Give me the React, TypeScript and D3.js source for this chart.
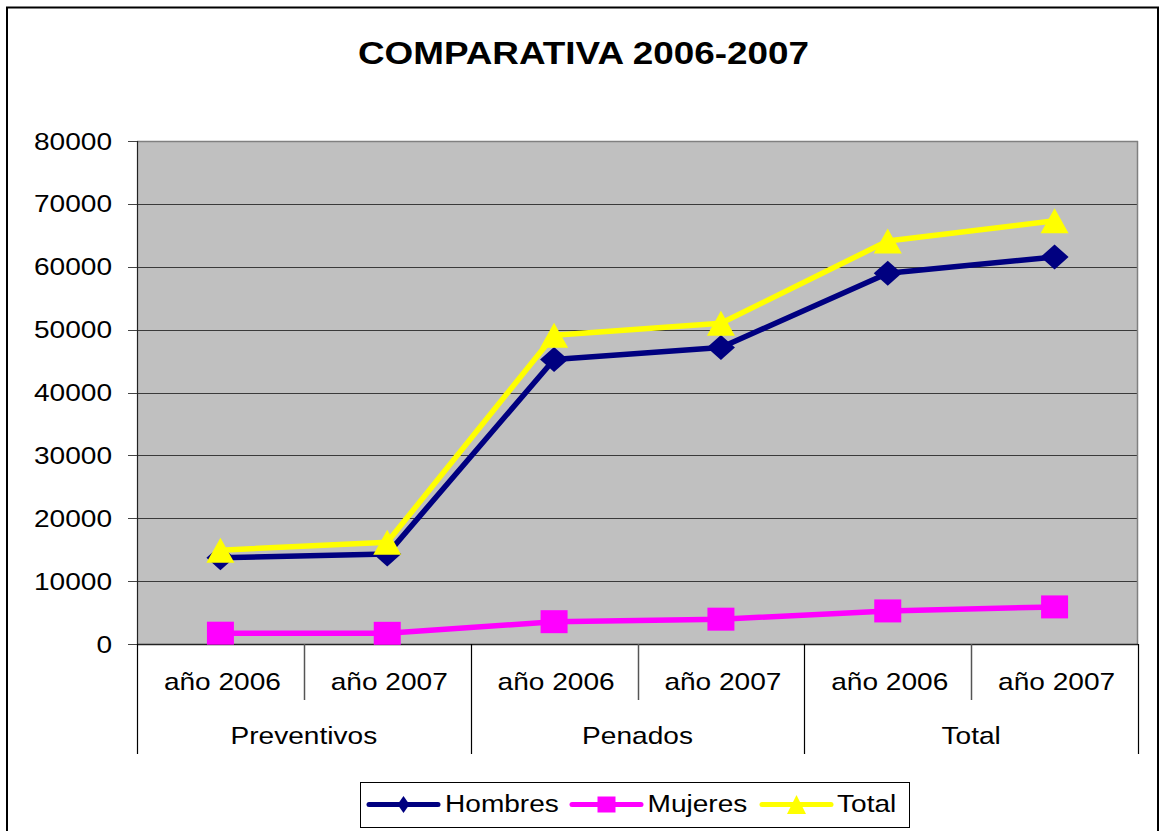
import React from "react";
import * as d3 from "d3";

const subCategories = ["año 2006", "año 2007", "año 2006", "año 2007", "año 2006", "año 2007"];
const groups = ["Preventivos", "Penados", "Total"];
const hombres = [13700, 14300, 45260, 47170, 58960, 61560];
const mujeres = [1720, 1700, 3550, 3950, 5260, 5900];
const total = [14930, 16170, 49110, 51000, 64110, 67300];
const yTicks = [0, 10000, 20000, 30000, 40000, 50000, 60000, 70000, 80000];
const title = "COMPARATIVA 2006-2007";

const W = 1159, H = 831;
const PL = 137, PR = 1138, PT = 141, PB = 644;
const FONT = "'Liberation Sans', Arial, Helvetica, sans-serif";
const SX = 1.17;

type Marker = "diamond" | "square" | "triangle";

function markerPath(kind: Marker, cx: number, cy: number, w: number, h: number): string {
  const hw = w / 2, hh = h / 2;
  if (kind === "diamond") return `M${cx},${cy - hh}L${cx + hw},${cy}L${cx},${cy + hh}L${cx - hw},${cy}Z`;
  if (kind === "square") return `M${cx - hw},${cy - hh}H${cx + hw}V${cy + hh}H${cx - hw}Z`;
  return `M${cx},${cy - hh}L${cx + hw},${cy + hh}L${cx - hw},${cy + hh}Z`;
}

const series = [
  { name: "Hombres", values: hombres, color: "#000080", marker: "diamond" as Marker, mw: 28, mh: 25 },
  { name: "Mujeres", values: mujeres, color: "#FF00FF", marker: "square" as Marker, mw: 27, mh: 23 },
  { name: "Total", values: total, color: "#FFFF00", marker: "triangle" as Marker, mw: 28, mh: 25 },
];

const legendItems = [
  { x1: 369, x2: 438, tx: 445, mw: 12, mh: 17 },
  { x1: 572, x2: 641, tx: 647.5, mw: 18, mh: 16 },
  { x1: 762, x2: 831, tx: 837, mw: 19, mh: 19 },
];

function SText(props: { x: number; y: number; anchor?: string; size?: number; children: React.ReactNode; weight?: string }) {
  const { x, y, anchor = "middle", size = 24, weight = "normal" } = props;
  return (
    <text
      transform={`translate(${x},${y}) scale(${SX},1)`}
      textAnchor={anchor}
      fontFamily={FONT}
      fontSize={size}
      fontWeight={weight}
      fill="#000"
    >
      {props.children}
    </text>
  );
}

export default function App() {
  const x = d3.scaleBand<number>().domain(d3.range(subCategories.length)).range([PL, PR]);
  const y = d3.scaleLinear().domain([0, 80000]).range([PB, PT]);
  const cx = (i: number) => (x(i) as number) + x.bandwidth() / 2;
  const line = d3
    .line<number>()
    .x((_, i) => cx(i))
    .y((d) => y(d));
  const groupW = (PR - PL) / groups.length;

  return (
    <svg
      width={W}
      height={H}
      style={{ position: "absolute", left: 0, top: 0, background: "#fff" }}
    >
      <rect x={0} y={0} width={W} height={H} fill="#fff" />
      {/* outer border */}
      <rect x={7} y={7.5} width={1151} height={840} fill="none" stroke="#000" strokeWidth={2} />

      {/* title */}
      <text
        x={358}
        y={64}
        textLength={451}
        lengthAdjust="spacingAndGlyphs"
        fontFamily={FONT}
        fontSize={31}
        fontWeight="bold"
        fill="#000"
      >
        {title}
      </text>

      {/* plot area */}
      <rect x={PL} y={PT} width={PR - PL} height={PB - PT} fill="#C0C0C0" />
      {yTicks.slice(1, -1).map((t) => (
        <line key={t} x1={PL} x2={PR} y1={Math.round(y(t)) + 0.5} y2={Math.round(y(t)) + 0.5} stroke="#3a3a3a" strokeWidth={1} />
      ))}
      <line x1={PL} x2={PR} y1={PT + 0.5} y2={PT + 0.5} stroke="#808080" strokeWidth={1.5} />
      <line x1={PR - 0.5} x2={PR - 0.5} y1={PT} y2={PB} stroke="#808080" strokeWidth={1.5} />

      {/* y axis */}
      <line x1={PL + 0.5} x2={PL + 0.5} y1={PT} y2={PB} stroke="#222" strokeWidth={1.2} />
      {yTicks.map((t) => (
        <g key={t}>
          <line x1={128} x2={PL} y1={Math.round(y(t)) + 0.5} y2={Math.round(y(t)) + 0.5} stroke="#444" strokeWidth={1} />
          <SText x={112} y={y(t) + 8.6} anchor="end">
            {String(t)}
          </SText>
        </g>
      ))}

      {/* x axis */}
      <line x1={PL} x2={PR} y1={PB + 0.5} y2={PB + 0.5} stroke="#222" strokeWidth={1.5} />
      {d3.range(subCategories.length + 1).map((i) => {
        const xx = PL + i * x.bandwidth();
        const major = i % 2 === 0;
        return (
          <line
            key={i}
            x1={Math.round(xx) + 0.5}
            x2={Math.round(xx) + 0.5}
            y1={PB}
            y2={major ? 754 : 700}
            stroke={major ? "#000" : "#555"}
            strokeWidth={major ? 1.2 : 1.5}
          />
        );
      })}
      {subCategories.map((c, i) => (
        <SText key={i} x={cx(i) + 2} y={689.5}>
          {c}
        </SText>
      ))}
      {groups.map((g, i) => (
        <SText key={g} x={PL + groupW * (i + 0.5)} y={743.5}>
          {g}
        </SText>
      ))}

      {/* series */}
      {series.map((s) => (
        <g key={s.name}>
          <path d={line(s.values) || ""} fill="none" stroke={s.color} strokeWidth={5.5} strokeLinejoin="round" />
          {s.values.map((v, i) => (
            <path key={i} d={markerPath(s.marker, cx(i), y(v), s.mw, s.mh)} fill={s.color} />
          ))}
        </g>
      ))}

      {/* legend */}
      <rect x={360.5} y={782.5} width={549} height={45} fill="#fff" stroke="#000" strokeWidth={1} />
      {series.map((s, k) => {
        const it = legendItems[k];
        const ly = 804.5;
        return (
          <g key={s.name}>
            <line x1={it.x1} x2={it.x2} y1={ly} y2={ly} stroke={s.color} strokeWidth={5} strokeLinecap="round" />
            <path d={markerPath(s.marker, (it.x1 + it.x2) / 2, ly, it.mw, it.mh)} fill={s.color} />
            <SText x={it.tx} y={812} anchor="start">
              {s.name}
            </SText>
          </g>
        );
      })}
    </svg>
  );
}
